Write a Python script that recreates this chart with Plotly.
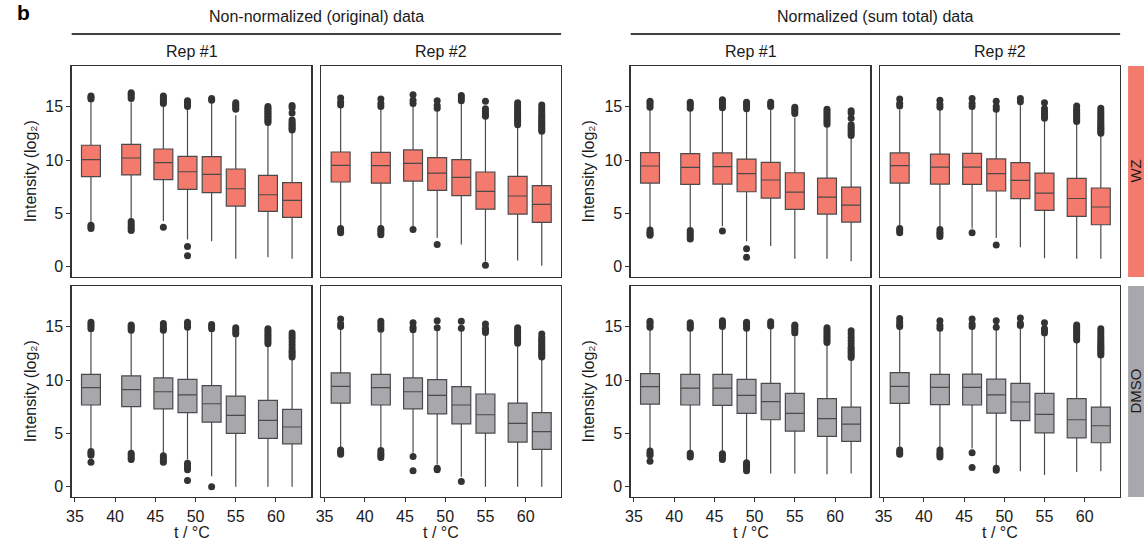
import plotly.graph_objects as go

W, H = 1144, 544

temps = [37, 42, 46, 49, 52, 55, 59, 62]
x_ticks = [35, 40, 45, 50, 55, 60]
y_ticks = [0, 5, 10, 15]
group_titles = ["Non-normalized (original) data", "Normalized (sum total) data"]
rep_titles = ["Rep #1", "Rep #2"]
row_labels = ["WZ", "DMSO"]
y_title = "Intensity (log₂)"
x_title = "t / °C"

# ---------- WZ row ----------
nn_r1_wz = dict(
    q1=[8.44, 8.6, 8.16, 7.25, 6.94, 5.69, 5.19, 4.63],
    med=[10.03, 10.19, 9.75, 8.9, 8.66, 7.31, 6.75, 6.22],
    q3=[11.38, 11.47, 11.03, 10.34, 10.31, 9.16, 8.56, 7.88],
    lo=[4.1, 4.4, 4.3, 2.56, 2.4, 0.75, 0.9, 0.75],
    hi=[15.4, 15.4, 15.2, 14.9, 15.4, 14.2, 13.5, 12.56],
    out=[[15.7, 15.85, 16.0, 3.6, 3.75, 3.9],
         [15.75, 15.95, 16.15, 16.3, 3.4, 3.6, 3.8, 4.0, 4.25],
         [15.3, 15.5, 15.7, 15.85, 16.0, 3.7],
         [15.0, 15.2, 15.4, 15.55, 1.9, 1.05],
         [15.6, 15.75],
         [14.75, 14.9, 15.05, 15.2, 15.35],
         [13.5, 13.65, 13.8, 13.95, 14.1, 14.25, 14.4, 14.55, 14.7, 14.85, 15.0],
         [12.8, 12.95, 13.1, 13.25, 13.4, 13.55, 13.75, 14.4, 14.9, 15.1]],
)
nn_r2_wz = dict(
    q1=[7.94, 7.84, 8.03, 7.16, 6.66, 5.4, 4.94, 4.16],
    med=[9.5, 9.47, 9.69, 8.78, 8.38, 7.06, 6.63, 5.84],
    q3=[10.75, 10.72, 10.94, 10.22, 10.03, 8.88, 8.47, 7.6],
    lo=[3.78, 3.8, 3.8, 2.7, 2.1, 0.5, 0.6, 0.1],
    hi=[14.9, 14.8, 15.2, 14.7, 15.3, 13.9, 13.2, 12.5],
    out=[[15.15, 15.4, 15.8, 3.2, 3.4, 3.6],
         [15.0, 15.3, 15.7, 3.0, 3.2, 3.4, 3.6],
         [15.3, 15.6, 16.1, 3.5],
         [14.85, 15.1, 15.55, 2.1],
         [15.55, 15.8, 16.05],
         [14.1, 14.3, 14.55, 14.8, 15.5, 0.15],
         [13.3, 13.5, 13.7, 13.9, 14.1, 14.3, 14.5, 14.7, 14.9, 15.1, 15.35],
         [12.7, 12.85, 13.0, 13.15, 13.3, 13.45, 13.6, 13.8, 14.0, 14.2, 14.4, 14.65, 14.9, 15.15]],
)
no_r1_wz = dict(
    q1=[7.84, 7.72, 7.75, 7.03, 6.44, 5.38, 4.94, 4.19],
    med=[9.44, 9.31, 9.38, 8.72, 8.13, 7.0, 6.53, 5.78],
    q3=[10.69, 10.59, 10.66, 10.09, 9.78, 8.81, 8.31, 7.47],
    lo=[3.66, 3.66, 3.8, 2.4, 1.94, 0.75, 0.75, 0.53],
    hi=[14.75, 14.6, 14.75, 14.6, 14.75, 13.97, 13.2, 12.1],
    out=[[14.95, 15.15, 15.35, 15.5, 2.95, 3.1, 3.25, 3.45],
         [14.85, 15.05, 15.25, 15.4, 2.6, 2.8, 3.0, 3.2, 3.4],
         [14.9, 15.1, 15.3, 15.5, 15.65, 3.35],
         [14.8, 15.0, 15.2, 15.4, 1.7, 0.9],
         [15.0, 15.2, 15.4],
         [14.35, 14.55, 14.75, 14.95],
         [13.35, 13.55, 13.75, 13.95, 14.15, 14.35, 14.55, 14.75],
         [12.3, 12.5, 12.7, 12.9, 13.1, 13.3, 13.9, 14.4, 14.6]],
)
no_r2_wz = dict(
    q1=[7.84, 7.75, 7.72, 7.1, 6.38, 5.28, 4.72, 3.94],
    med=[9.47, 9.34, 9.34, 8.72, 8.1, 6.9, 6.4, 5.6],
    q3=[10.66, 10.56, 10.62, 10.1, 9.75, 8.78, 8.28, 7.38],
    lo=[3.78, 3.78, 3.6, 2.7, 1.84, 0.8, 0.75, 0.75],
    hi=[14.7, 14.7, 14.9, 14.56, 15.3, 13.8, 13.5, 12.4],
    out=[[15.05, 15.3, 15.7, 3.2, 3.4, 3.6],
         [14.95, 15.2, 15.6, 2.85, 3.05, 3.25, 3.5],
         [15.0, 15.3, 15.75, 3.2],
         [14.75, 15.0, 15.5, 2.05],
         [15.45, 15.75],
         [13.9, 14.1, 14.3, 14.55, 14.8, 15.35],
         [13.6, 13.8, 14.0, 14.2, 14.4, 14.6, 14.8, 15.05],
         [12.5, 12.65, 12.8, 12.95, 13.1, 13.25, 13.4, 13.6, 13.8, 14.0, 14.2, 14.4, 14.6, 14.85]],
)

# ---------- DMSO row ----------
nn_r1_dm = dict(
    q1=[7.66, 7.5, 7.3, 6.94, 6.06, 5.0, 4.53, 4.03],
    med=[9.28, 9.1, 8.9, 8.6, 7.78, 6.69, 6.22, 5.6],
    q3=[10.53, 10.38, 10.2, 10.06, 9.47, 8.5, 8.09, 7.25],
    lo=[3.5, 3.34, 3.2, 2.56, 1.0, 0.0, 0.0, 0.0],
    hi=[14.6, 14.4, 14.4, 14.75, 14.6, 13.97, 13.2, 11.9],
    out=[[14.8, 15.0, 15.2, 15.4, 2.95, 3.15, 3.3, 2.3],
         [14.65, 14.85, 15.0, 15.15, 2.55, 2.75, 2.95, 3.15],
         [14.65, 14.85, 15.05, 15.3, 2.3, 2.5, 2.7, 2.9],
         [14.95, 15.15, 15.4, 1.6, 1.8, 2.0, 2.2, 0.6],
         [14.8, 15.0, 15.2, 0.0],
         [14.3, 14.5, 14.7, 14.9],
         [13.4, 13.6, 13.8, 14.0, 14.2, 14.4, 14.6, 14.8],
         [12.15, 12.35, 12.55, 12.75, 13.0, 13.3, 13.6, 13.9, 14.15, 14.4]],
)
nn_r2_dm = dict(
    q1=[7.84, 7.66, 7.3, 6.84, 5.9, 5.03, 4.19, 3.5],
    med=[9.4, 9.28, 8.9, 8.56, 7.66, 6.75, 5.94, 5.16],
    q3=[10.66, 10.53, 10.2, 10.03, 9.38, 8.69, 7.84, 6.94],
    lo=[3.66, 3.66, 3.2, 2.1, 0.94, 0.0, 0.0, 0.0],
    hi=[14.75, 14.5, 14.4, 14.7, 14.6, 14.2, 13.25, 11.9],
    out=[[15.0, 15.25, 15.7, 3.05, 3.25, 3.45],
         [14.75, 15.0, 15.25, 15.5, 2.75, 2.95, 3.15, 3.4],
         [14.7, 14.95, 15.35, 2.85, 1.5],
         [14.9, 15.55, 1.6, 1.75],
         [14.85, 15.5, 0.5],
         [14.45, 14.65, 14.85, 15.25],
         [13.45, 13.65, 13.85, 14.05, 14.25, 14.45, 14.65, 14.9],
         [12.15, 12.3, 12.45, 12.6, 12.75, 12.9, 13.05, 13.2, 13.4, 13.6, 13.8, 14.0, 14.3]],
)
no_r1_dm = dict(
    q1=[7.75, 7.66, 7.63, 6.88, 6.28, 5.22, 4.72, 4.25],
    med=[9.38, 9.25, 9.25, 8.56, 7.97, 6.88, 6.38, 5.88],
    q3=[10.6, 10.53, 10.53, 10.06, 9.69, 8.75, 8.25, 7.47],
    lo=[3.6, 3.44, 3.34, 2.4, 1.25, 1.25, 1.19, 1.25],
    hi=[14.7, 14.6, 14.75, 14.7, 14.84, 14.06, 13.4, 11.94],
    out=[[14.95, 15.15, 15.35, 15.5, 2.95, 3.15, 3.35, 2.4],
         [14.85, 15.0, 15.2, 15.35, 2.8, 2.95, 3.15],
         [15.0, 15.2, 15.4, 15.55, 2.55, 2.75, 2.95, 3.1],
         [14.85, 15.05, 15.25, 15.4, 1.5, 1.7, 1.9, 2.1, 2.25],
         [15.05, 15.25, 15.45],
         [14.4, 14.6, 14.8, 15.0, 15.15],
         [13.5, 13.7, 13.9, 14.1, 14.3, 14.5, 14.7, 14.9],
         [12.1, 12.3, 12.5, 12.7, 12.9, 13.1, 13.4, 13.7, 14.0, 14.3, 14.6]],
)
no_r2_dm = dict(
    q1=[7.81, 7.69, 7.66, 6.9, 6.19, 5.06, 4.59, 4.13],
    med=[9.4, 9.31, 9.31, 8.6, 7.94, 6.78, 6.28, 5.72],
    q3=[10.69, 10.53, 10.56, 10.09, 9.69, 8.75, 8.25, 7.47],
    lo=[3.75, 3.66, 3.6, 2.03, 1.47, 1.1, 1.4, 1.47],
    hi=[14.7, 14.6, 14.8, 14.7, 14.84, 14.1, 13.6, 12.19],
    out=[[15.0, 15.2, 15.45, 15.75, 3.05, 3.25, 3.45],
         [14.85, 15.1, 15.55, 2.8, 3.0, 3.2, 3.45],
         [15.0, 15.25, 15.7, 3.2, 1.8],
         [14.95, 15.55, 1.55, 1.75],
         [15.1, 15.3, 15.8],
         [14.4, 14.6, 14.8, 15.35],
         [13.75, 13.95, 14.15, 14.35, 14.55, 14.75, 14.95, 15.15],
         [12.35, 12.5, 12.65, 12.8, 12.95, 13.1, 13.25, 13.45, 13.65, 13.85, 14.05, 14.3, 14.55, 14.8]],
)

panels = [[nn_r1_wz, nn_r2_wz, no_r1_wz, no_r2_wz],
          [nn_r1_dm, nn_r2_dm, no_r1_dm, no_r2_dm]]
row_fill = ["#F47A6D", "#A8A8AC"]

# ---------- geometry (pixels) ----------
col_px = [(66, 307), (317, 558), (628, 869), (879, 1120)]
row_px = [(66, 277), (286, 497)]

def px(x):
    return x / W

def py(y):
    return 1 - y / H

FONT = "Arial, Liberation Sans, sans-serif"
TXT = "#1a1a1a"
FS = 16
fig = go.Figure()
layout = dict(width=W, height=H, margin=dict(l=0, r=0, t=0, b=0, pad=0), autosize=False,
              paper_bgcolor="white", plot_bgcolor="white", showlegend=False,
              font=dict(family=FONT, size=FS, color=TXT))

for r in range(2):
    for c in range(4):
        idx = r * 4 + c + 1
        xa = "x" if idx == 1 else f"x{idx}"
        ya = "y" if idx == 1 else f"y{idx}"
        d = panels[r][c]
        fig.add_trace(go.Box(
            x=temps, q1=d["q1"], median=d["med"], q3=d["q3"],
            lowerfence=d["lo"], upperfence=d["hi"],
            width=2.35, whiskerwidth=0, boxpoints=False,
            fillcolor=row_fill[r], line=dict(color="#4a4a4a", width=1.2),
            xaxis=xa, yaxis=ya, hoverinfo="skip"))
        ox, oy = [], []
        for t, vals in zip(temps, d["out"]):
            ox += [t] * len(vals)
            oy += vals
        fig.add_trace(go.Scatter(
            x=ox, y=oy, mode="markers",
            marker=dict(size=7, color="#333333"),
            xaxis=xa, yaxis=ya, hoverinfo="skip"))
        bottom = r == 1
        left = c in (0, 2)
        layout["xaxis" if idx == 1 else f"xaxis{idx}"] = dict(
            domain=[px(col_px[c][0]), px(col_px[c][1])], range=[34.6, 64.4],
            anchor=ya, showline=True, mirror=True, linecolor="#333333", linewidth=1.3,
            showgrid=False, zeroline=False, tickvals=x_ticks,
            ticks="outside" if bottom else "", ticklen=4, tickcolor="#333333",
            showticklabels=bottom, tickfont=dict(size=FS, color=TXT, family=FONT))
        layout["yaxis" if idx == 1 else f"yaxis{idx}"] = dict(
            domain=[py(row_px[r][1]), py(row_px[r][0])], range=[-0.95, 18.8],
            anchor=xa, showline=True, mirror=True, linecolor="#333333", linewidth=1.3,
            showgrid=False, zeroline=False, tickvals=y_ticks,
            ticks="outside" if left else "", ticklen=4, tickcolor="#333333",
            showticklabels=left, tickfont=dict(size=FS, color=TXT, family=FONT))

annotations = []
shapes = []

annotations.append(dict(text="<b>b</b>", x=px(10), y=py(0), xref="paper", yref="paper",
                        xanchor="left", yanchor="top", showarrow=False, borderpad=0,
                        font=dict(size=21, color="black")))
for g in range(2):
    c0, c1 = col_px[2 * g][0], col_px[2 * g + 1][1]
    annotations.append(dict(text=group_titles[g], x=px((c0 + c1) / 2), y=py(16),
                            xref="paper", yref="paper", showarrow=False,
                            xanchor="center", yanchor="middle", font=dict(size=FS)))
    shapes.append(dict(type="line", xref="paper", yref="paper",
                       x0=px(c0), x1=px(c1), y0=py(34), y1=py(34),
                       line=dict(color="black", width=1.5)))
for c in range(4):
    cx = (col_px[c][0] + col_px[c][1]) / 2
    annotations.append(dict(text=rep_titles[c % 2], x=px(cx), y=py(51),
                            xref="paper", yref="paper", showarrow=False,
                            xanchor="center", yanchor="middle", font=dict(size=FS)))
    annotations.append(dict(text=x_title, x=px(cx), y=py(532),
                            xref="paper", yref="paper", showarrow=False,
                            xanchor="center", yanchor="middle", font=dict(size=FS)))
for r in range(2):
    cy = (row_px[r][0] + row_px[r][1]) / 2
    for xpos in (25, 586):
        annotations.append(dict(text=y_title, x=px(xpos), y=py(cy), textangle=-90,
                                xref="paper", yref="paper", showarrow=False,
                                xanchor="center", yanchor="middle", font=dict(size=FS)))
    shapes.append(dict(type="rect", xref="paper", yref="paper",
                       x0=px(1128), x1=px(1160), y0=py(row_px[r][1]), y1=py(row_px[r][0]),
                       fillcolor=row_fill[r], line=dict(width=0), layer="below"))
    annotations.append(dict(text=row_labels[r], x=px(1135), y=py(cy), textangle=-90,
                            xref="paper", yref="paper", showarrow=False, borderpad=0,
                            xanchor="center", yanchor="middle", font=dict(size=15)))

layout["annotations"] = annotations
layout["shapes"] = shapes
fig.update_layout(**layout)
fig.write_html("out.html", config={"displayModeBar": False, "staticPlot": True},
               post_script="document.body.style.margin='0px';")
